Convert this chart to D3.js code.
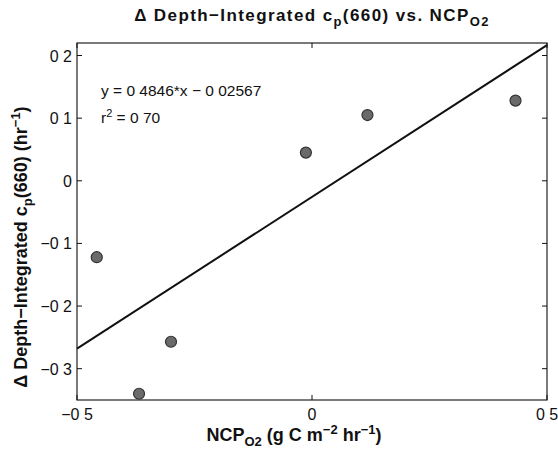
<!DOCTYPE html>
<html>
<head>
<meta charset="utf-8">
<script src="https://cdn.jsdelivr.net/npm/d3@7"></script>
<style>
  body { margin: 0; background: #fff; }
  text { font-family: "Liberation Sans", Arial, Helvetica, sans-serif; fill: #111; }
</style>
</head>
<body>
<svg id="chart" width="558" height="454"></svg>
<script>
// NCP_O2 (g C m-2 hr-1) vs delta depth-integrated cp(660) (hr-1)
var ncp = [-0.458, -0.368, -0.300, -0.013, 0.118, 0.433];
var dcp = [-0.122, -0.340, -0.257, 0.045, 0.105, 0.128];
var fitCoef = [0.4846, -0.02567];
var xTicks = [-0.5, 0, 0.5];
var xTickLabels = ["\u22120 5", "0", "0 5"];
var yTicks = [0.2, 0.1, 0, -0.1, -0.2, -0.3];
var yTickLabels = ["0 2", "0 1", "0", "\u22120 1", "\u22120 2", "\u22120 3"];
var eqLines = ["y = 0 4846*x \u2212 0 02567", "r2 = 0 70"];

function drawChart() {
  var svg = d3.select("#chart");
  var pl = 77, pr = 547, pt = 43, pb = 400;

  var x = d3.scaleLinear().domain([-0.5, 0.5]).range([pl, pr]);
  var y = d3.scaleLinear().domain([-0.35, 0.22]).range([pb, pt]);

  // box
  svg.append("rect")
      .attr("x", pl).attr("y", pt)
      .attr("width", pr - pl).attr("height", pb - pt)
      .attr("fill", "none").attr("stroke", "#222").attr("stroke-width", 1.2);

  // ticks pointing inward on all four sides
  var tl = 5;
  var g = svg.append("g").attr("stroke", "#111").attr("stroke-width", 1);
  xTicks.forEach(function(t) {
    g.append("line").attr("x1", x(t)).attr("x2", x(t)).attr("y1", pb).attr("y2", pb - tl);
    g.append("line").attr("x1", x(t)).attr("x2", x(t)).attr("y1", pt).attr("y2", pt + tl);
  });
  yTicks.forEach(function(t) {
    g.append("line").attr("x1", pl).attr("x2", pl + tl).attr("y1", y(t)).attr("y2", y(t));
    g.append("line").attr("x1", pr).attr("x2", pr - tl).attr("y1", y(t)).attr("y2", y(t));
  });

  // tick labels
  svg.selectAll(".xl").data(xTicks).enter().append("text")
      .attr("class", "xl")
      .attr("x", function(d) { return x(d); })
      .attr("y", pb + 20)
      .attr("text-anchor", "middle")
      .attr("font-size", 16)
      .text(function(d, i) { return xTickLabels[i]; });

  svg.selectAll(".yl").data(yTicks).enter().append("text")
      .attr("class", "yl")
      .attr("x", pl - 5)
      .attr("y", function(d) { return y(d) + 6; })
      .attr("text-anchor", "end")
      .attr("font-size", 16)
      .text(function(d, i) { return yTickLabels[i]; });

  // fit line
  var line = d3.line()
      .x(function(d) { return x(d); })
      .y(function(d) { return y(fitCoef[0] * d + fitCoef[1]); });
  svg.append("path")
      .datum([-0.5, 0.5])
      .attr("d", line)
      .attr("fill", "none")
      .attr("stroke", "#111")
      .attr("stroke-width", 2);

  // points
  svg.selectAll(".pt").data(ncp).enter().append("circle")
      .attr("class", "pt")
      .attr("cx", function(d) { return x(d); })
      .attr("cy", function(d, i) { return y(dcp[i]); })
      .attr("r", 5.5)
      .attr("fill", "#6a6a6a")
      .attr("stroke", "#333")
      .attr("stroke-width", 1.2);

  // equation
  svg.append("text")
      .attr("x", 101).attr("y", 96)
      .attr("font-size", 15.5)
      .text(eqLines[0]);
  var r2 = svg.append("text")
      .attr("x", 101).attr("y", 123)
      .attr("font-size", 15.5);
  r2.append("tspan").text("r");
  r2.append("tspan").attr("dy", -6).attr("font-size", 11).text("2");
  r2.append("tspan").attr("dy", 6).text(" = 0 70");

  // title
  var title = svg.append("text")
      .attr("x", 312).attr("y", 21)
      .attr("text-anchor", "middle")
      .attr("font-size", 17)
      .attr("letter-spacing", 1.4)
      .attr("font-weight", "bold");
  title.append("tspan").text("\u0394 Depth\u2212Integrated c");
  title.append("tspan").attr("dy", 5).attr("font-size", 13).text("p");
  title.append("tspan").attr("dy", -5).text("(660) vs. NCP");
  title.append("tspan").attr("dy", 5).attr("font-size", 13).text("O2");

  // x label
  var xl = svg.append("text")
      .attr("x", 294).attr("y", 441)
      .attr("text-anchor", "middle")
      .attr("font-size", 18)
      .attr("font-weight", "bold");
  xl.append("tspan").text("NCP");
  xl.append("tspan").attr("dy", 5).attr("font-size", 13).text("O2");
  xl.append("tspan").attr("dy", -5).text(" (g C m");
  xl.append("tspan").attr("dy", -7).attr("font-size", 13).text("\u22122");
  xl.append("tspan").attr("dy", 7).text(" hr");
  xl.append("tspan").attr("dy", -7).attr("font-size", 13).text("\u22121");
  xl.append("tspan").attr("dy", 7).text(")");

  // y label
  var yl = svg.append("text")
      .attr("transform", "translate(27,247) rotate(-90)")
      .attr("text-anchor", "middle")
      .attr("font-size", 18)
      .attr("font-weight", "bold");
  yl.append("tspan").text("\u0394 Depth\u2212Integrated c");
  yl.append("tspan").attr("dy", 5).attr("font-size", 13).text("p");
  yl.append("tspan").attr("dy", -5).text("(660) (hr");
  yl.append("tspan").attr("dy", -7).attr("font-size", 13).text("\u22121");
  yl.append("tspan").attr("dy", 7).text(")");
}

drawChart();
</script>
</body>
</html>
